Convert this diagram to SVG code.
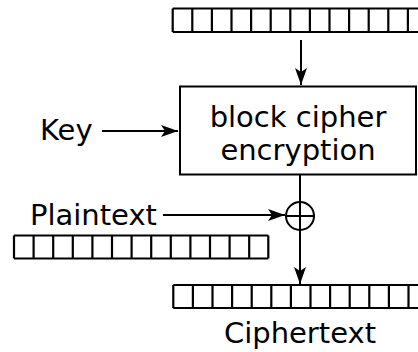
<svg xmlns="http://www.w3.org/2000/svg" width="418" height="352" viewBox="0 0 418 352">
<defs>
<marker id="ah" viewBox="0 0 17 12" refX="17" refY="6" markerWidth="17" markerHeight="12" markerUnits="userSpaceOnUse" orient="auto">
<path d="M0,0 L17,6 L0,12 L4,6 Z" fill="#000"/>
</marker>
</defs>
<style>
text{font-family:"DejaVu Sans",sans-serif;font-size:29px;fill:#000}
.box{fill:#fff;stroke:#000;stroke-width:2}
.cell{fill:none;stroke:#000;stroke-width:2.2}
.conn{stroke:#000;stroke-width:2;fill:none}
</style>
<rect width="418" height="352" fill="#fff"/>
<g id="iv">
<path class="cell" d="M172.7,8.5 H430 M172.7,32 H430 M172.7,8.5 V32 M192.3,8.5 V32 M211.9,8.5 V32 M231.5,8.5 V32 M251.1,8.5 V32 M270.7,8.5 V32 M290.3,8.5 V32 M309.9,8.5 V32 M329.5,8.5 V32 M349.1,8.5 V32 M368.7,8.5 V32 M388.3,8.5 V32 M407.9,8.5 V32"/>
</g>
<g id="cipher">
<rect class="box" x="180" y="86.5" width="236" height="88"/>
<text x="298" y="127" text-anchor="middle">block cipher</text>
<text x="298" y="160" text-anchor="middle">encryption</text>
</g>
<g id="key">
<text x="40" y="140">Key</text>
</g>
<g id="xor">
<circle cx="300" cy="216" r="14" fill="none" stroke="#000" stroke-width="2"/>
<line x1="286" y1="216" x2="314" y2="216" stroke="#000" stroke-width="2"/>
</g>
<g id="plaintext">
<text x="30" y="225">Plaintext</text>
<path class="cell" d="M14,235.5 H268.3 M14,258.5 H268.3 M14,235.5 V258.5 M33.6,235.5 V258.5 M53.2,235.5 V258.5 M72.8,235.5 V258.5 M92.4,235.5 V258.5 M112,235.5 V258.5 M131.6,235.5 V258.5 M151.2,235.5 V258.5 M170.8,235.5 V258.5 M190.4,235.5 V258.5 M210,235.5 V258.5 M229.6,235.5 V258.5 M249.2,235.5 V258.5 M268.3,235.5 V258.5"/>
</g>
<g id="ciphertext">
<path class="cell" d="M173.3,285 H430 M173.3,308 H430 M173.3,285 V308 M192.9,285 V308 M212.5,285 V308 M232.1,285 V308 M251.7,285 V308 M271.3,285 V308 M290.9,285 V308 M310.5,285 V308 M330.1,285 V308 M349.7,285 V308 M369.3,285 V308 M388.9,285 V308 M408.5,285 V308"/>
<text x="300" y="343" text-anchor="middle">Ciphertext</text>
</g>
<g id="connectors">
<line class="conn" x1="301" y1="40" x2="301" y2="85" marker-end="url(#ah)"/>
<line class="conn" x1="102" y1="131" x2="178" y2="131" marker-end="url(#ah)"/>
<line class="conn" x1="163" y1="215" x2="285" y2="215" marker-end="url(#ah)"/>
<line class="conn" x1="300" y1="175" x2="300" y2="284" marker-end="url(#ah)"/>
</g>
</svg>
